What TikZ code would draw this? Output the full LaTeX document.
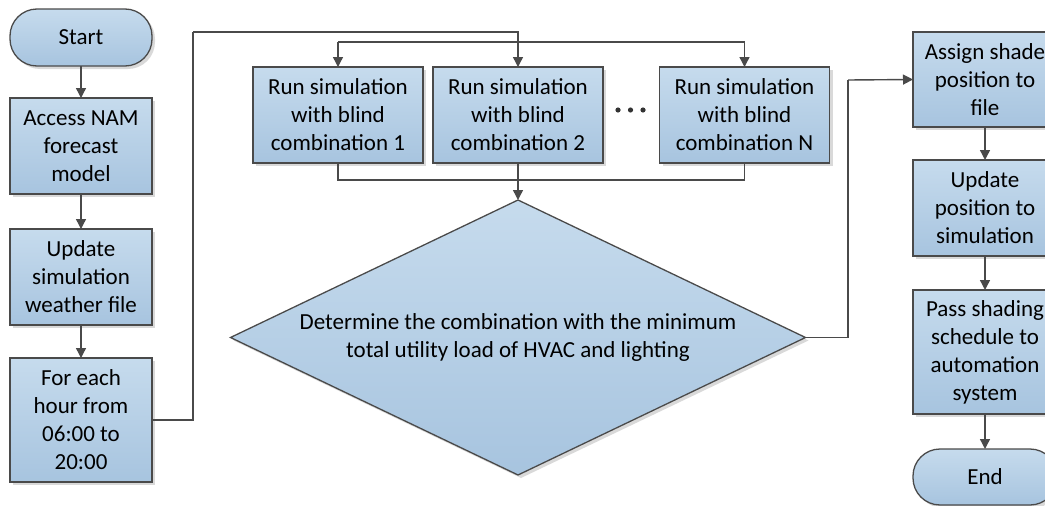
\documentclass[tikz,border=0pt]{standalone}
\usepackage{fontspec}
\setmainfont{Carlito}
\usetikzlibrary{arrows.meta,shapes.geometric,shadows}
\definecolor{edgec}{HTML}{4A4A4A}
\definecolor{filltop}{HTML}{C6DBED}
\definecolor{fillbot}{HTML}{A7C4DF}
\tikzset{
  box/.style={draw=edgec, line width=1.3pt, top color=filltop, bottom color=fillbot,
    align=center, inner sep=0pt, outer sep=0pt,
    font=\fontsize{23}{28}\selectfont,
    drop shadow={shadow xshift=3pt, shadow yshift=-3pt, opacity=0.15, fill=black}},
  term/.style={box, rounded corners=27pt},
  arr/.style={draw=edgec, line width=1.4pt, -{Triangle[length=10pt,width=10pt]}},
  ln/.style={draw=edgec, line width=1.4pt},
}
\begin{document}
\begin{tikzpicture}[x=1pt,y=-1pt]
\useasboundingbox (0,0) rectangle (1045,506);
\clip (0,0) rectangle (1045,506);
% left column
\node[term, minimum width=142pt, minimum height=57pt] (start) at (81,37.5) {Start};
\node[box, minimum width=142pt, minimum height=96pt] (acc) at (81,146) {Access NAM\\forecast\\model};
\node[box, minimum width=142pt, minimum height=96pt] (upd) at (81,277) {Update\\simulation\\weather file};
\node[box, minimum width=142pt, minimum height=124pt] (fe) at (81,420) {For each\\hour from\\06:00 to\\20:00};
% simulation boxes
\node[box, minimum width=170pt, minimum height=96pt] (b1) at (338,115) {Run simulation\\with blind\\combination 1};
\node[box, minimum width=170pt, minimum height=96pt] (b2) at (518,115) {Run simulation\\with blind\\combination 2};
\node[box, minimum width=170pt, minimum height=96pt] (bN) at (744.5,115) {Run simulation\\with blind\\combination N};
% ellipsis
\node (dots) at (630.5,110) {};
\fill[black!80] (618,110) circle (2.6pt) (630.5,110) circle (2.6pt) (643,110) circle (2.6pt);
% diamond
\node[draw=edgec, line width=1.3pt, top color=filltop, bottom color=fillbot, shape=diamond,
  minimum width=575pt, minimum height=275pt, inner sep=0pt, outer sep=0pt,
  drop shadow={shadow xshift=3pt, shadow yshift=-3pt, opacity=0.15, fill=black}] (d) at (518,337.5) {};
\node[align=center, font=\fontsize{23}{28}\selectfont] (dtext) at (d.center)
  {Determine the combination with the minimum\\total utility load of HVAC and lighting};
% right column
\node[box, minimum width=144pt, minimum height=95pt] (asg) at (985,79.5) {Assign shade\\position to\\file};
\node[box, minimum width=144pt, minimum height=96pt] (upp) at (985,208) {Update\\position to\\simulation};
\node[box, minimum width=144pt, minimum height=124pt] (pass) at (985,352) {Pass shading\\schedule to\\automation\\system};
\node[term, minimum width=144pt, minimum height=56pt] (end) at (985,477) {End};
% helper coordinates
\coordinate (c1) at (193,32);
\coordinate (split) at (518,42);
\coordinate (merge) at (518,180);
\coordinate (c3) at (848,80);
% connectors
\draw[arr] (start) -- (acc);
\draw[arr] (acc) -- (upd);
\draw[arr] (upd) -- (fe);
\draw[ln] (fe.east) -| (c1);
\draw[arr] (c1) -| (b2.north);
\draw[ln] (b1.north |- split) -- (bN.north |- split);
\draw[arr] (b1.north |- split) -- (b1.north);
\draw[arr] (bN.north |- split) -- (bN.north);
\draw[ln] (b1.south) |- (merge);
\draw[ln] (bN.south) |- (merge);
\draw[arr] (b2.south) -- (d.north);
\draw[ln] (d.east) -| (c3);
\draw[arr] (c3) -- (asg.west);
\draw[arr] (asg) -- (upp);
\draw[arr] (upp) -- (pass);
\draw[arr] (pass) -- (end);
\end{tikzpicture}
\end{document}
